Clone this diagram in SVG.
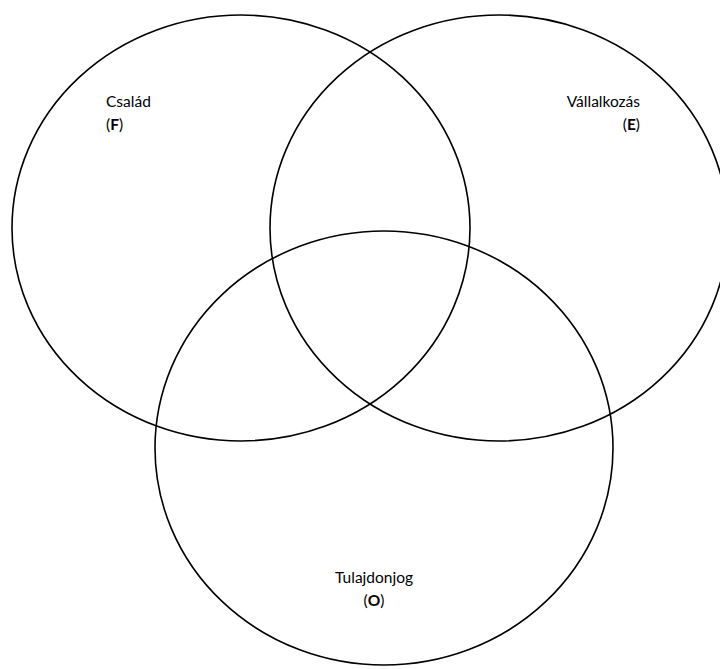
<svg xmlns="http://www.w3.org/2000/svg" width="720" height="669" viewBox="0 0 720 669">
<style>
.c{fill:none;stroke:#000;stroke-width:1.6}
.t{font-family:Lato,"Open Sans","Liberation Sans",sans-serif;font-size:15.5px;fill:#000}
.b{font-weight:bold}
</style>
<rect width="720" height="669" fill="#fff"/>
<g id="family"><ellipse class="c" cx="241" cy="228" rx="229" ry="213"/></g>
<g id="enterprise"><ellipse class="c" cx="499" cy="228" rx="229" ry="213"/></g>
<g id="ownership"><ellipse class="c" cx="384" cy="448" rx="229" ry="217"/></g>
<g id="labels">
<text class="t" x="106" y="107">Család</text>
<text class="t" x="106" y="130">(<tspan class="b">F</tspan>)</text>
<text class="t" x="640" y="107" text-anchor="end">Vállalkozás</text>
<text class="t" x="640" y="130" text-anchor="end">(<tspan class="b">E</tspan>)</text>
<text class="t" x="374" y="583" text-anchor="middle">Tulajdonjog</text>
<text class="t" x="374" y="606" text-anchor="middle">(<tspan class="b">O</tspan>)</text>
</g>
</svg>
